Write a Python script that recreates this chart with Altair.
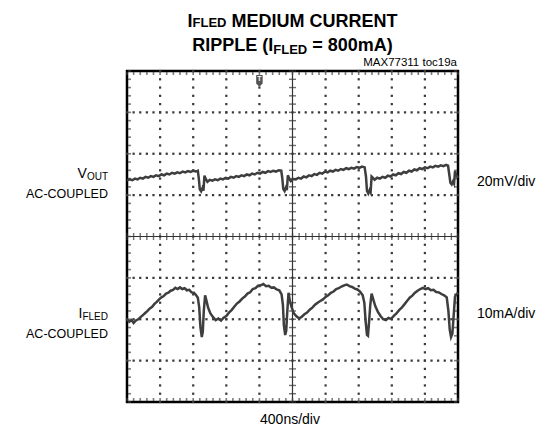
import altair as alt
import pandas as pd

# ---------------- data (time in divisions, amplitude in divisions) ----------------
VOUT_T = [0.00,0.08,0.16,0.24,0.32,0.40,0.48,0.56,0.64,0.72,0.80,0.88,0.96,1.04,1.12,1.20,1.28,1.36,1.44,1.52,1.60,1.68,1.76,1.84,1.92,2.00,2.08,2.14,
          2.17,2.20,2.24,2.28,2.31,2.34,2.38,2.43,2.50,
          2.58,2.66,2.74,2.82,2.90,2.98,3.06,3.14,3.22,3.30,3.38,3.46,3.54,3.62,3.70,3.78,3.86,3.94,4.02,4.10,4.18,4.26,4.34,4.42,4.50,4.58,4.66,
          4.69,4.72,4.76,4.80,4.83,4.86,4.90,4.95,5.02,
          5.10,5.18,5.26,5.34,5.42,5.50,5.58,5.66,5.74,5.82,5.90,5.98,6.06,6.14,6.22,6.30,6.38,6.46,6.54,6.62,6.70,6.78,6.86,6.94,7.02,7.10,7.18,
          7.22,7.25,7.29,7.33,7.36,7.39,7.43,7.48,7.56,
          7.64,7.72,7.80,7.88,7.96,8.04,8.12,8.20,8.28,8.36,8.44,8.52,8.60,8.68,8.76,8.84,8.92,9.00,9.08,9.16,9.24,9.32,9.40,9.48,9.56,9.64,9.70,
          9.74,9.77,9.81,9.85,9.88,9.91,9.95,10.00]
VOUT_V = [1.36,1.38,1.36,1.40,1.38,1.42,1.40,1.44,1.42,1.46,1.44,1.48,1.46,1.50,1.48,1.52,1.50,1.54,1.52,1.55,1.53,1.57,1.55,1.58,1.56,1.59,1.57,1.59,
          1.40,1.14,1.09,1.17,1.11,1.47,1.39,1.32,1.37,
          1.35,1.38,1.36,1.40,1.38,1.42,1.40,1.44,1.42,1.46,1.44,1.48,1.46,1.50,1.48,1.52,1.50,1.54,1.52,1.56,1.54,1.58,1.56,1.59,1.57,1.60,1.59,
          1.42,1.15,1.10,1.18,1.12,1.48,1.40,1.34,1.39,
          1.38,1.42,1.40,1.45,1.43,1.48,1.46,1.51,1.49,1.54,1.52,1.57,1.55,1.59,1.57,1.61,1.59,1.63,1.61,1.65,1.63,1.66,1.64,1.68,1.66,1.69,1.67,
          1.45,1.10,1.04,1.12,1.07,1.45,1.42,1.37,1.42,
          1.40,1.44,1.42,1.47,1.45,1.50,1.48,1.53,1.51,1.56,1.54,1.59,1.57,1.62,1.60,1.65,1.63,1.67,1.65,1.69,1.67,1.71,1.69,1.72,1.70,1.73,1.71,
          1.48,1.30,1.26,1.33,1.28,1.58,1.48,1.42]

IFLED_T = [0.00,0.07,0.14,0.20,0.27,0.34,0.41,0.48,0.55,0.62,0.69,0.76,0.83,0.90,0.97,1.04,1.11,1.18,1.25,1.32,1.39,1.46,1.53,1.60,1.67,1.74,1.81,1.88,1.95,2.02,2.09,2.14,
           2.18,2.22,2.26,2.29,2.32,2.36,2.40,2.45,2.52,2.60,2.68,2.76,2.84,2.92,3.00,3.08,3.16,3.24,3.32,3.40,3.48,3.56,3.64,3.72,3.80,3.88,3.96,4.04,4.12,4.20,4.28,4.36,4.44,4.52,4.60,4.67,
           4.71,4.74,4.78,4.81,4.84,4.88,4.92,4.97,5.04,5.12,5.20,5.28,5.36,5.44,5.52,5.60,5.68,5.76,5.84,5.92,6.00,6.08,6.16,6.24,6.32,6.40,6.48,6.56,6.64,6.72,6.80,6.88,6.96,7.04,7.12,
           7.17,7.21,7.25,7.28,7.31,7.35,7.39,7.44,7.50,7.58,7.66,7.74,7.82,7.90,7.98,8.06,8.14,8.22,8.30,8.38,8.46,8.54,8.62,8.70,8.78,8.86,8.94,9.02,9.10,9.18,9.26,9.34,9.42,9.50,9.58,9.66,
           9.71,9.75,9.79,9.83,9.87,9.91,9.95,10.00]
IFLED_V = [-2.00,-2.06,-2.02,-2.09,-2.03,-2.00,-1.95,-1.90,-1.85,-1.80,-1.74,-1.70,-1.63,-1.58,-1.52,-1.47,-1.44,-1.38,-1.36,-1.31,-1.29,-1.24,-1.27,-1.23,-1.27,-1.25,-1.30,-1.29,-1.35,-1.36,-1.42,-1.48,
           -1.70,-2.20,-2.43,-2.30,-1.80,-1.42,-1.55,-1.72,-1.86,-1.95,-2.02,-1.98,-2.03,-1.96,-1.92,-1.84,-1.78,-1.70,-1.62,-1.57,-1.50,-1.45,-1.38,-1.35,-1.27,-1.25,-1.19,-1.18,-1.15,-1.20,-1.19,-1.24,-1.23,-1.28,-1.30,-1.40,
           -1.65,-2.15,-2.38,-2.28,-1.85,-1.36,-1.55,-1.70,-1.86,-1.93,-1.98,-1.94,-1.88,-1.84,-1.77,-1.72,-1.65,-1.60,-1.56,-1.52,-1.46,-1.42,-1.36,-1.33,-1.27,-1.25,-1.21,-1.18,-1.16,-1.20,-1.22,-1.26,-1.28,-1.33,-1.42,
           -1.60,-2.05,-2.38,-2.40,-2.10,-1.65,-1.38,-1.52,-1.68,-1.82,-1.92,-2.00,-2.02,-1.97,-1.99,-1.92,-1.86,-1.78,-1.72,-1.64,-1.56,-1.48,-1.43,-1.36,-1.31,-1.27,-1.24,-1.27,-1.25,-1.30,-1.29,-1.34,-1.35,-1.39,-1.42,-1.47,
           -1.80,-2.25,-2.43,-2.35,-1.90,-1.45,-1.40,-1.36]

TITLE_1 = ["I", "FLED", "MEDIUM CURRENT"]
TITLE_2 = ["RIPPLE (I", "FLED", "= 800mA)"]
CODE_LABEL = "MAX77311 toc19a"
CH1_LABEL = ["V", "OUT", "AC-COUPLED"]
CH2_LABEL = ["I", "FLED", "AC-COUPLED"]
CH1_SCALE = "20mV/div"
CH2_SCALE = "10mA/div"
TIME_SCALE = "400ns/div"

# graticule: 10 x 8 divisions, 5 minor steps per division
X_DIVS, Y_DIVS, MINOR = 10, 8, 5

# ---------------- helpers ----------------
FONT = "Liberation Sans, Arial, sans-serif"
INK = "#3e3e3e"

xs = alt.Scale(domain=[0, X_DIVS], nice=False, zero=False)
ys = alt.Scale(domain=[-Y_DIVS / 2, Y_DIVS / 2], nice=False, zero=False)

minor_x = [round(k / MINOR, 3) for k in range(0, X_DIVS * MINOR + 1)]
minor_y = [round(-Y_DIVS / 2 + k / MINOR, 3) for k in range(0, Y_DIVS * MINOR + 1)]

grid_pts = []
for gx in range(1, X_DIVS):
    if gx != X_DIVS // 2:
        grid_pts += [{"t": gx, "v": v} for v in minor_y]
for gy in range(-Y_DIVS // 2 + 1, Y_DIVS // 2):
    if gy != 0:
        grid_pts += [{"t": t, "v": gy} for t in minor_x]
grid_df = pd.DataFrame(grid_pts)

def X(f="t"):
    return alt.X(f"{f}:Q", scale=xs, axis=None)

def Y(f="v"):
    return alt.Y(f"{f}:Q", scale=ys, axis=None)

grid = alt.Chart(grid_df).mark_square(size=5, color="#3a3a3a", opacity=1).encode(x=X(), y=Y())

center_h = alt.Chart(pd.DataFrame({"v": [0]})).mark_rule(color="#333", strokeWidth=1.2).encode(y=Y())
center_v = alt.Chart(pd.DataFrame({"t": [X_DIVS / 2]})).mark_rule(color="#333", strokeWidth=1.2).encode(x=X())

ticks_h = alt.Chart(pd.DataFrame({"t": minor_x, "v": 0})).mark_tick(
    orient="vertical", size=7, thickness=1.4, color="#333").encode(x=X(), y=Y())
ticks_v = alt.Chart(pd.DataFrame({"t": X_DIVS / 2, "v": minor_y})).mark_tick(
    orient="horizontal", size=7, thickness=1.4, color="#333").encode(x=X(), y=Y())

edge_top = alt.Chart(pd.DataFrame({"t": minor_x, "v": Y_DIVS / 2})).mark_tick(
    orient="vertical", size=3, thickness=1.6, color="#444", yOffset=2.5).encode(x=X(), y=Y())
edge_bot = alt.Chart(pd.DataFrame({"t": minor_x, "v": -Y_DIVS / 2})).mark_tick(
    orient="vertical", size=3, thickness=1.6, color="#444", yOffset=-2.5).encode(x=X(), y=Y())
edge_l = alt.Chart(pd.DataFrame({"t": 0, "v": minor_y})).mark_tick(
    orient="horizontal", size=3, thickness=1.6, color="#444", xOffset=2.5).encode(x=X(), y=Y())
edge_r = alt.Chart(pd.DataFrame({"t": X_DIVS, "v": minor_y})).mark_tick(
    orient="horizontal", size=3, thickness=1.6, color="#444", xOffset=-2.5).encode(x=X(), y=Y())

vout_df = pd.DataFrame({"t": VOUT_T, "v": VOUT_V})
ifled_df = pd.DataFrame({"t": IFLED_T, "v": IFLED_V})
vout = alt.Chart(vout_df).mark_line(color=INK, strokeWidth=2.5).encode(x=X(), y=Y(), order="t:Q")
ifled = alt.Chart(ifled_df).mark_line(color=INK, strokeWidth=2.5).encode(x=X(), y=Y(), order="t:Q")

trig = alt.Chart(pd.DataFrame({"t": [4.0], "v": [3.76]})).mark_point(
    shape="M-0.55,-1 L0.55,-1 L0.55,0.45 L0,1 L-0.55,0.45 Z", size=140, filled=True,
    color="#555", opacity=1).encode(x=X(), y=Y())
trig_t = alt.Chart(pd.DataFrame({"t": [4.0], "v": [3.8]})).mark_text(
    text="T", fontSize=7, fontWeight="bold", color="white", font=FONT, baseline="middle").encode(x=X(), y=Y())

one = pd.DataFrame({"a": [0]})

def txt(s, x, y, size, align="left", weight="normal"):
    return alt.Chart(one).mark_text(
        align=align, baseline="alphabetic", fontSize=size, fontWeight=weight,
        font=FONT, color="black").encode(x=alt.value(x), y=alt.value(y), text=alt.value(s))

texts = [
    txt(TITLE_1[0], 60.5, -44, 18, weight="bold"),
    txt(TITLE_1[1], 65.5, -44, 13, weight="bold"),
    txt(TITLE_1[2], 104.4, -44, 18, weight="bold"),
    txt(TITLE_2[0], 65.3, -20, 18, weight="bold"),
    txt(TITLE_2[1], 146.3, -17, 13, weight="bold"),
    txt(TITLE_2[2], 185.2, -20, 18, weight="bold"),
    txt(CODE_LABEL, 330, -5, 11.5, align="right"),
    txt(CH1_LABEL[0], -40.1, 107, 14, align="right"),
    txt(CH1_LABEL[1], -40.1, 108.5, 10, align="left"),
    txt(CH1_LABEL[2], -19, 127, 12.5, align="right"),
    txt(CH2_LABEL[0], -44.6, 247, 14, align="right"),
    txt(CH2_LABEL[1], -44.6, 248.5, 10, align="left"),
    txt(CH2_LABEL[2], -19, 267, 12.5, align="right"),
    txt(CH1_SCALE, 350, 115, 14),
    txt(CH2_SCALE, 350, 247, 14),
    txt(TIME_SCALE, 163, 353, 14, align="center"),
]

chart = alt.layer(
    grid, center_h, center_v, ticks_h, ticks_v, edge_top, edge_bot, edge_l, edge_r,
    vout, ifled, trig, trig_t, *texts
).properties(
    width=331, height=331,
    padding={"left": 119, "top": 63, "right": 79, "bottom": 24},
    autosize=alt.AutoSizeParams(type="none"),
    background="white",
).configure_view(stroke="black", strokeWidth=2.5)

chart.save("out.html", embed_options={"renderer": "svg", "actions": False})
